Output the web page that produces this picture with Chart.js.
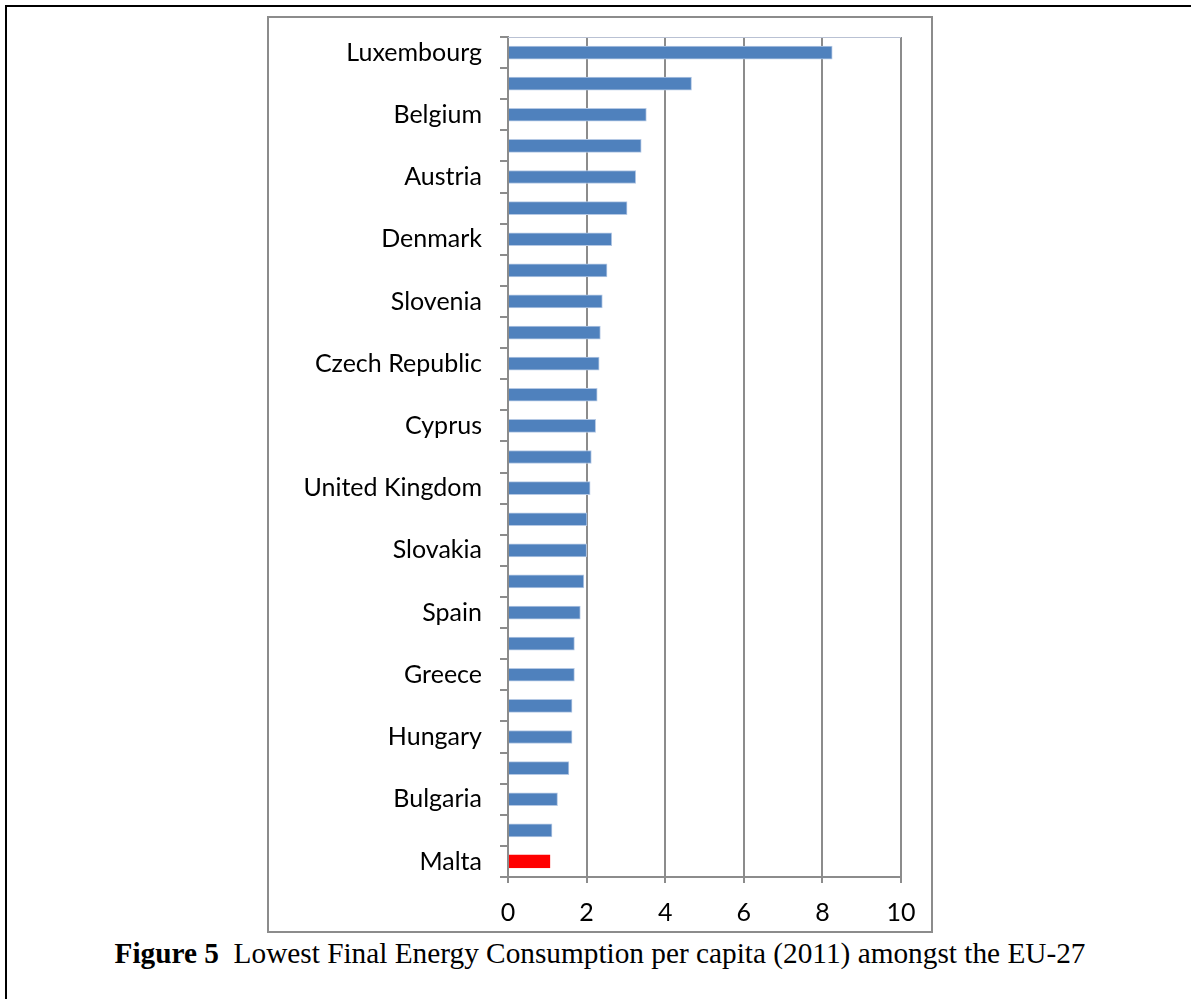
<!DOCTYPE html>
<html>
<head>
<meta charset="utf-8">
<script src="https://cdn.jsdelivr.net/npm/chart.js"></script>
<style>
  body { margin: 0; background: #fff; width: 1191px; height: 999px; overflow: hidden; position: relative; }
  #frame { position: absolute; left: 5px; top: 5px; width: 1300px; height: 1100px;
           border-top: 2px solid #000; border-left: 2px solid #000; }
  #box { position: absolute; left: 267px; top: 16px; width: 662px; height: 913px;
         border: 2px solid #8c8c8c; }
  #box canvas { display: block; }
  #caption { position: absolute; left: 0; width: 1200px; top: 939px; text-align: center;
             font-family: "Liberation Serif", "Times New Roman", serif; font-size: 29.3px; line-height: 29px; color: #000; }
</style>
</head>
<body>
<div id="frame"></div>
<div id="box"><canvas id="myChart" width="662" height="913"></canvas></div>
<div id="caption"><b>Figure 5</b>&nbsp; Lowest Final Energy Consumption per capita (2011) amongst the EU-27</div>
<script>
// data
const countries = ['Luxembourg', 'Finland', 'Belgium', 'Sweden', 'Austria', 'Netherlands', 'Denmark',
  'Germany', 'Slovenia', 'France', 'Czech Republic', 'Ireland', 'Cyprus', 'Estonia', 'United Kingdom',
  'Italy', 'Slovakia', 'Lithuania', 'Spain', 'Latvia', 'Greece', 'Poland', 'Hungary', 'Portugal',
  'Bulgaria', 'Romania', 'Malta'];
const consumption = [8.25, 4.67, 3.52, 3.39, 3.25, 3.03, 2.64, 2.52, 2.40, 2.35, 2.32, 2.27, 2.23, 2.12,
  2.09, 2.01, 2.00, 1.93, 1.84, 1.69, 1.69, 1.63, 1.63, 1.55, 1.26, 1.12, 1.07];
const highlight = 'Malta';

const barColors = countries.map(c => c === highlight ? '#ff0000' : '#4f81bd');
const edgeColors = countries.map(c => c === highlight ? '#ff0000' : '#b4c8e4');

// light border along top of plot area
const plotTop = {
  id: 'plotTop',
  afterDraw(chart) {
    const { ctx, chartArea } = chart;
    ctx.save();
    ctx.strokeStyle = '#b9c1d3';
    ctx.lineWidth = 1;
    ctx.beginPath();
    ctx.moveTo(chartArea.left, chartArea.top + 0.5);
    ctx.lineTo(chartArea.right, chartArea.top + 0.5);
    ctx.stroke();
    ctx.restore();
  }
};

const labelFont = { family: 'Lato', size: 25 };

const config = {
  type: 'bar',
  data: {
    labels: countries,
    datasets: [{
      data: consumption,
      backgroundColor: barColors,
      borderColor: edgeColors,
      borderWidth: 1,
      barThickness: 13
    }]
  },
  options: {
    indexAxis: 'y',
    responsive: false,
    animation: false,
    layout: { padding: { left: 0, right: 30, top: 19, bottom: 0 } },
    plugins: { legend: { display: false }, tooltip: { enabled: false } },
    scales: {
      x: {
        min: 0,
        max: 10,
        ticks: { stepSize: 2, color: '#000', font: labelFont, padding: 15 },
        grid: { color: '#8c8c8c', lineWidth: 2, tickLength: 6 },
        border: { color: '#8c8c8c', width: 2 },
        afterFit(scale) { scale.height = 54; }
      },
      y: {
        ticks: {
          color: '#000', font: labelFont, padding: 18, autoSkip: false,
          callback(value, index) { return index % 2 === 0 ? countries[index] : ''; }
        },
        grid: { offset: true, drawOnChartArea: false, color: '#8c8c8c', lineWidth: 2, tickLength: 8 },
        border: { color: '#8c8c8c', width: 2 },
        afterFit(scale) {
          scale.width = 239;
          scale.paddingTop = 0;
          scale.paddingBottom = 0;
        }
      }
    }
  },
  plugins: [plotTop]
};

const myChart = new Chart(document.getElementById('myChart'), config);
</script>
</body>
</html>
